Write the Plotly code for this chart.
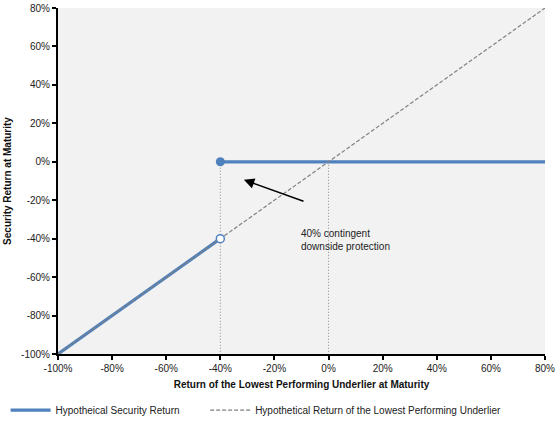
import plotly.graph_objects as go

# payoff data (percent)
under_x = [-100, 80]
under_y = [-100, 80]
low_x = [-100, -40]
low_y = [-100, -40]
prot_x = [-40, 80]
prot_y = [0, 0]
guide_x = [-40, 0]
ticks = [-100, -80, -60, -40, -20, 0, 20, 40, 60, 80]
tick_text = [f"{t}%" for t in ticks]

blue = "#4f81bd"

fig = go.Figure()

# dotted guides
for gx in guide_x:
    fig.add_trace(go.Scatter(x=[gx, gx], y=[0, -100], mode="lines",
                             line=dict(color="#8c8c8c", width=1, dash="1px,2px"),
                             showlegend=False, hoverinfo="skip"))

fig.add_trace(go.Scatter(x=low_x, y=low_y, mode="lines", name="Hypotheical Security Return",
                         line=dict(color=blue, width=3.2), legend="legend"))
fig.add_trace(go.Scatter(x=prot_x, y=prot_y, mode="lines", showlegend=False,
                         line=dict(color=blue, width=3.2)))
fig.add_trace(go.Scatter(x=under_x, y=under_y, mode="lines",
                         name="Hypothetical Return of the Lowest Performing Underlier",
                         line=dict(color="#808080", width=1.2, dash="4px,2px"), legend="legend2"))
fig.add_trace(go.Scatter(x=[low_x[-1]], y=[low_y[-1]], mode="markers", showlegend=False,
                         marker=dict(color="white", size=8, line=dict(color=blue, width=1.5))))
fig.add_trace(go.Scatter(x=[prot_x[0]], y=[prot_y[0]], mode="markers", showlegend=False,
                         marker=dict(color=blue, size=9)))

fig.add_annotation(x=-31.3, y=-9.4, ax=-8.7, ay=-20.8, xref="x", yref="y", axref="x", ayref="y",
                   text="", showarrow=True, arrowhead=2, arrowsize=1.3, arrowwidth=1.6,
                   arrowcolor="black")
fig.add_annotation(x=-10.8, y=-40.5, xref="x", yref="y", xanchor="left", yanchor="middle",
                   text="40% contingent<br>downside protection", showarrow=False, align="left",
                   font=dict(size=10, color="#222"))

axis_common = dict(tickvals=ticks, ticktext=tick_text, showgrid=False, zeroline=False,
                   showline=True, linecolor="black", linewidth=2, ticks="outside",
                   ticklen=4, tickwidth=2, tickcolor="black", automargin=False,
                   tickfont=dict(size=10, color="#222"))

fig.update_xaxes(range=[-100, 80], title=dict(text="<b>Return of the Lowest Performing Underlier at Maturity</b>",
                                                font=dict(size=10, color="#111"), standoff=8),
                 **axis_common)
fig.update_yaxes(range=[-100, 80], title=dict(text="<b>Security Return at Maturity</b>",
                                                font=dict(size=10, color="#111"), standoff=8),
                 **axis_common)

leg = dict(orientation="h", y=0.035, xref="container", yref="container",
           xanchor="left", yanchor="middle", font=dict(size=10), itemwidth=40)

fig.update_layout(
    width=559, height=425,
    margin=dict(l=58, r=14, t=8, b=71, autoexpand=False),
    plot_bgcolor="#f2f2f2", paper_bgcolor="white",
    font=dict(family="Arial, Liberation Sans, sans-serif", size=10, color="#222"),
    legend=dict(x=0.01, **leg),
    legend2=dict(x=0.367, **leg),
)

# drop the default page margin so the figure sits at the window corner
fig.write_html("out.html", config={"displayModeBar": False},
               post_script="document.body.style.margin='0';")
